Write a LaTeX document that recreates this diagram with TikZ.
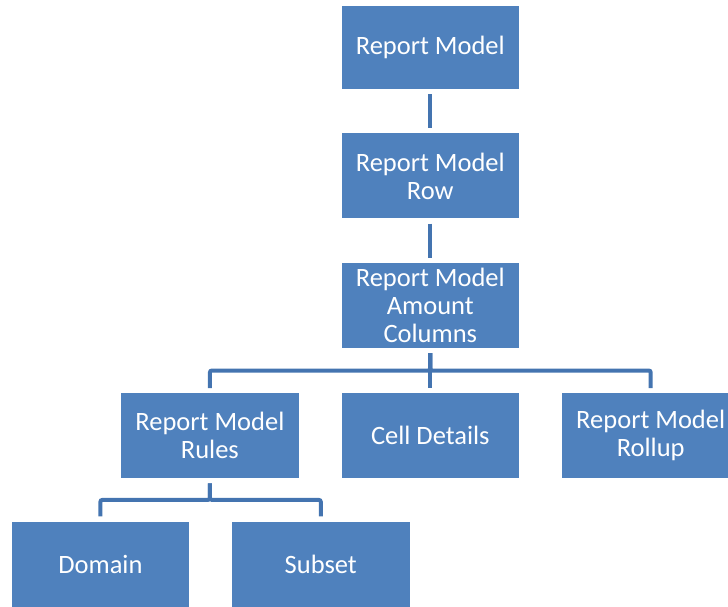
\documentclass[tikz,border=0pt]{standalone}
\usepackage{fontspec}
\setmainfont{Carlito}
\usetikzlibrary{positioning}
\definecolor{boxblue}{RGB}{79,129,189}
\definecolor{lineblue}{RGB}{68,116,176}

\begin{document}
\begin{tikzpicture}[
    x=1pt, y=1pt,
    node distance=44pt and 42.5pt,
    box/.style={rectangle, fill=boxblue, text=white, align=center,
                minimum width=177.5pt, minimum height=85pt,
                font=\fontsize{26.5}{28}\selectfont},
    link/.style={draw=lineblue, line width=4pt, rounded corners=2pt,
                 shorten <=5pt, shorten >=5pt}
]
\useasboundingbox (0,0) rectangle (728,-607);

% === TOP CHAIN ===
\node[box, minimum height=83pt] (model) at (430.3,-47.5) {Report Model};
\node[box, below=of model] (row) {Report Model\\Row};
\node[box, below=of row] (amount) {Report Model\\Amount\\Columns};

% === SECOND LEVEL ===
\node[box, below=45pt of amount] (cells) {Cell Details};
\node[box, left=of cells] (rules) {Report Model\\Rules};
\node[box, right=of cells] (rollup) {Report Model\\Rollup};

% === THIRD LEVEL ===
\node[box, below=43pt of rules, xshift=-109.5pt] (domain) {Domain};
\node[box, right=42.5pt of domain] (subset) {Subset};

% === CONNECTORS ===
\draw[link] (model) -- (row);
\draw[link] (row) -- (amount);
\draw[link] (amount.south) -- ++(0,-22.5) -| (rules.north);
\draw[link] (amount) -- (cells);
\draw[link] (amount.south) -- ++(0,-22.5) -| (rollup.north);
\draw[link] (rules.south) -- ++(0,-21.5) -| (domain.north);
\draw[link] (rules.south) -- ++(0,-21.5) -| (subset.north);

\end{tikzpicture}
\end{document}
